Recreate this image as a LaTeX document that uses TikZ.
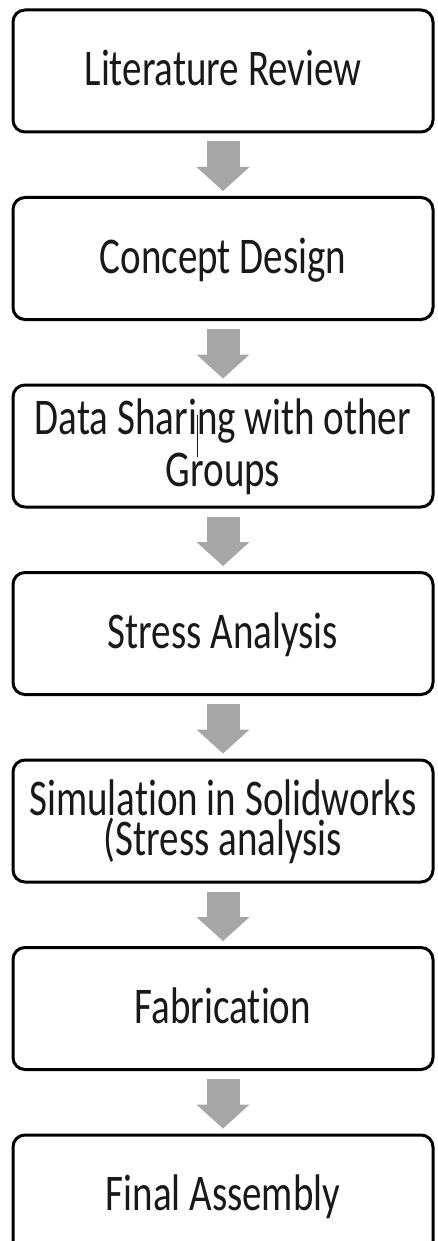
\documentclass[tikz,border=0pt]{standalone}
\usepackage{fontspec}
\setmainfont{Carlito}[Ligatures=NoCommon]
\usepackage{graphicx}
\usetikzlibrary{positioning,arrows.meta}
\definecolor{arrowgray}{HTML}{A6A6A6}
\newcommand{\stagefont}{\fontsize{39}{40}\selectfont}
% every line gets the same height and depth before it is stretched
\newcommand{\tall}[1]{\scalebox{1}[1.32]{\rule[-8pt]{0pt}{38pt}#1}}
\tikzset{
  >=latex,
}
\tikzstyle{stage}=[draw,line width=3pt,rounded corners=12pt,fill=white,
  minimum width=420pt,minimum height=122pt,inner sep=0pt,align=center,
  font=\stagefont,text=black!90]
\tikzstyle{flow}=[line width=33pt,arrowgray,shorten <=8pt,shorten >=5pt,
  -{Triangle[width=53pt,length=24pt,line width=0pt]}]

\begin{document}
\begin{tikzpicture}[node distance=62.5pt]
    \useasboundingbox (0,0) rectangle (437pt,-1241pt);
    \node[stage] (review) at (223pt,-71pt) {\tall{Literature Review}};
    \node[stage,below=of review] (concept) {\tall{Concept Design}};
    \node[stage,below=of concept] (sharing)
      {\tall{Data Shari\rlap{\rule[-0.43em]{0.7pt}{0.82em}}ng with other}\\[-11pt]\tall{Groups}};
    \node[stage,below=of sharing] (stress) {\tall{Stress Analysis}};
    \node[stage,below=of stress] (simulation)
      {\tall{Simulation in Solidworks}\\[-11pt]\tall{(Stress analysis}};
    \node[stage,below=of simulation] (fabrication) {\tall{Fabrication}};
    \node[stage,below=of fabrication] (assembly) {\tall{Final Assembly}};
    % block arrows between the stages
    \draw[flow] (review) -- (concept);
    \draw[flow] (concept) -- (sharing);
    \draw[flow] (sharing) -- (stress);
    \draw[flow] (stress) -- (simulation);
    \draw[flow] (simulation) -- (fabrication);
    \draw[flow] (fabrication) -- (assembly);
\end{tikzpicture}
\end{document}
